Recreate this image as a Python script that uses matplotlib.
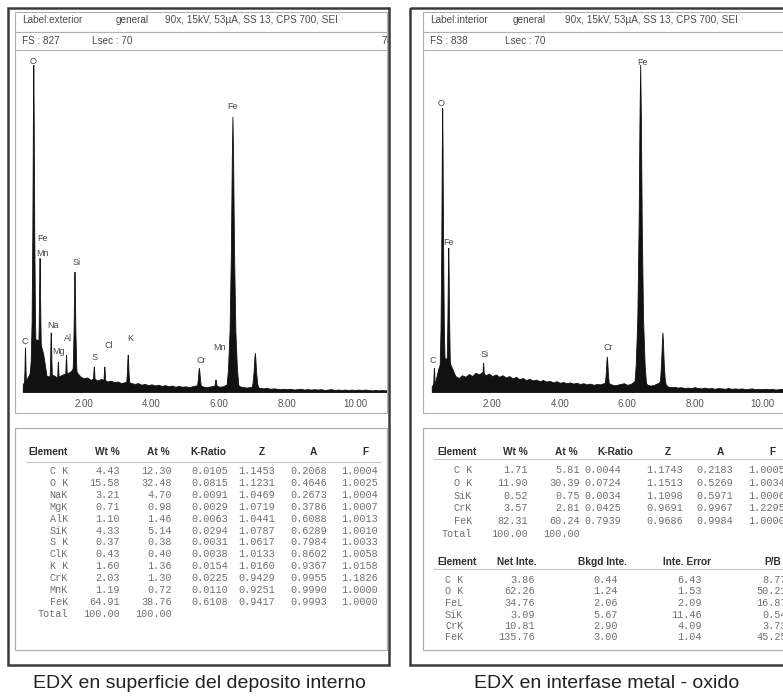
import numpy as np
import matplotlib.pyplot as plt
from matplotlib.patches import Rectangle

W, H = 783, 697

# ---------------- spectrum data (keV / counts) ----------------
fs_left, fs_right = 827, 838
lsec = 70

# background readings every 0.1 keV from 0.2 keV
bg_start, bg_step = 0.2, 0.1
bg_left = [20, 30, 45, 125, 130, 125, 95, 40, 38, 42,
           36, 40, 44, 46, 50, 60, 48, 38, 34, 36,
           30, 34, 28, 32, 30, 26, 28, 24, 26, 22,
           24, 26, 22, 20, 22, 18, 20, 17, 19, 16,
           18, 15, 17, 14, 16, 13, 15, 13, 14, 12,
           14, 16, 18, 14, 12, 13, 15, 16, 13, 14,
           18, 22, 24, 20, 14, 12, 11, 12, 14, 13,
           10, 9, 10, 8, 9, 8, 7, 8, 7, 8,
           6, 7, 8, 6, 7, 6, 7, 6, 7, 5,
           6, 7, 5, 6, 5, 6, 5, 6, 5, 6,
           5, 6, 5, 4, 5, 4, 5, 4, 5]
bg_right = [15, 25, 60, 80, 85, 80, 60, 40, 35, 42,
            38, 45, 40, 48, 44, 50, 42, 46, 40, 44,
            38, 42, 36, 40, 34, 38, 32, 35, 30, 33,
            29, 31, 27, 30, 26, 28, 24, 27, 23, 25,
            22, 24, 21, 23, 20, 22, 19, 21, 18, 20,
            19, 22, 24, 20, 17, 18, 20, 22, 18, 20,
            26, 32, 34, 28, 18, 16, 18, 22, 26, 22,
            14, 12, 13, 11, 12, 10, 11, 10, 12, 10,
            9, 11, 9, 10, 8, 10, 9, 8, 10, 8,
            9, 8, 9, 7, 8, 9, 7, 8, 7, 8,
            7, 8, 6, 7, 8, 6, 7, 6, 7]

# peaks: energy, height, half width at base
pk_left_kev = [0.28, 0.525, 0.71, 1.04, 1.25, 1.49, 1.74, 2.31, 2.62, 3.31, 5.41, 5.90, 6.40, 7.06]
pk_left_cnt = [109, 807, 330, 146, 74, 91, 296, 62, 62, 91, 59, 30, 679, 96]
pk_left_hw = [0.06, 0.11, 0.10, 0.08, 0.08, 0.08, 0.11, 0.09, 0.09, 0.10, 0.13, 0.12, 0.19, 0.15]

pk_right_kev = [0.28, 0.525, 0.705, 1.74, 5.41, 6.40, 7.06]
pk_right_cnt = [60, 710, 360, 72, 88, 818, 148]
pk_right_hw = [0.06, 0.11, 0.10, 0.09, 0.13, 0.19, 0.15]

# peak labels
lab_left = ['O', 'Fe', 'Mn', 'C', 'Na', 'Mg', 'Al', 'Si', 'S', 'Cl', 'K', 'Cr', 'Mn', 'Fe']
lab_left_kev = [0.50, 0.77, 0.77, 0.27, 1.09, 1.27, 1.53, 1.80, 2.33, 2.74, 3.36, 5.46, 5.99, 6.40]
lab_left_cnt = [815, 380, 343, 124, 163, 99, 131, 319, 84, 116, 133, 77, 111, 704]

lab_right = ['Fe', 'O', 'Fe', 'C', 'Si', 'Cr']
lab_right_kev = [6.44, 0.47, 0.71, 0.24, 1.78, 5.43]
lab_right_cnt = [825, 722, 375, 78, 95, 112]

# ---------------- table data ----------------
el_left = ['C K', 'O K', 'NaK', 'MgK', 'AlK', 'SiK', 'S K', 'ClK', 'K K', 'CrK', 'MnK', 'FeK']
wt_left = [4.43, 15.58, 3.21, 0.71, 1.10, 4.33, 0.37, 0.43, 1.60, 2.03, 1.19, 64.91]
at_left = [12.30, 32.48, 4.70, 0.98, 1.46, 5.14, 0.38, 0.40, 1.36, 1.30, 0.72, 38.76]
kr_left = [0.0105, 0.0815, 0.0091, 0.0029, 0.0063, 0.0294, 0.0031, 0.0038, 0.0154, 0.0225, 0.0110, 0.6108]
z_left = [1.1453, 1.1231, 1.0469, 1.0719, 1.0441, 1.0787, 1.0617, 1.0133, 1.0160, 0.9429, 0.9251, 0.9417]
a_left = [0.2068, 0.4646, 0.2673, 0.3786, 0.6088, 0.6289, 0.7984, 0.8602, 0.9367, 0.9955, 0.9990, 0.9993]
f_left = [1.0004, 1.0025, 1.0004, 1.0007, 1.0013, 1.0010, 1.0033, 1.0058, 1.0158, 1.1826, 1.0000, 1.0000]

el_right = ['C K', 'O K', 'SiK', 'CrK', 'FeK']
wt_right = [1.71, 11.90, 0.52, 3.57, 82.31]
at_right = [5.81, 30.39, 0.75, 2.81, 60.24]
kr_right = [0.0044, 0.0724, 0.0034, 0.0425, 0.7939]
z_right = [1.1743, 1.1513, 1.1098, 0.9691, 0.9686]
a_right = [0.2183, 0.5269, 0.5971, 0.9967, 0.9984]
f_right = [1.0005, 1.0034, 1.0006, 1.2295, 1.0000]

el_int = ['C K', 'O K', 'FeL', 'SiK', 'CrK', 'FeK']
net_int = [3.86, 62.26, 34.76, 3.09, 10.81, 135.76]
bkg_int = [0.44, 1.24, 2.06, 5.67, 2.90, 3.00]
err_int = [6.43, 1.53, 2.09, 11.46, 4.09, 1.04]
pb_int = [8.77, 50.21, 16.87, 0.54, 3.73, 45.25]

# ---------------- styling ----------------
MONO = 'Liberation Mono'
SANS = 'Liberation Sans'
c_val = '#707070'
c_hdr = '#2e2e2e'
c_txt = '#4a4a4a'
c_box = '#b0b0b0'
c_frame = '#3a3a3a'

fig = plt.figure(figsize=(W / 100, H / 100), dpi=100)
fig.patch.set_facecolor('white')

bg = fig.add_axes([0, 0, 1, 1])
bg.set_xlim(0, W)
bg.set_ylim(H, 0)
bg.axis('off')


def hline(x0, x1, y, color=c_box, lw=0.8):
    bg.plot([x0, x1], [y, y], color=color, lw=lw, solid_capstyle='butt')


def panel(x0, x1, bi, head, offs, fs, date):
    # outer frame and inner boxes
    bg.add_patch(Rectangle((x0, 8), x1 - x0, 657, fill=False, ec=c_frame, lw=1.8))
    bg.add_patch(Rectangle((bi, 12), 372, 401, fill=False, ec=c_box, lw=0.8))
    bg.add_patch(Rectangle((bi, 428), 372, 222, fill=False, ec=c_box, lw=0.9))
    hline(bi, bi + 372, 32)
    hline(bi, bi + 372, 50)
    tx = bi + 7
    for t, dx in zip(head, offs[:3]):
        bg.text(tx + dx, 20, t, fontsize=7.2, family=SANS, color=c_txt, va='center')
    bg.text(tx, 41, f'FS : {fs}', fontsize=7.2, family=SANS, color=c_txt, va='center')
    bg.text(tx + offs[3], 41, f'Lsec : {lsec}', fontsize=7.2, family=SANS, color=c_txt, va='center')
    bg.text(bi + 367, 41, date, fontsize=7.2, family=SANS, color=c_txt, va='center')


head_cond = '90x, 15kV, 53µA, SS 13, CPS 700, SEI'
panel(8, 389, 15, ['Label:exterior', 'general', head_cond], [0, 94, 143, 70], fs_left, '7-')
panel(410, 820, 423, ['Label:interior', 'general', head_cond], [0, 83, 135, 75], fs_right, '7')


def spike(e, h, w):
    fx = np.array([-1, -0.7, -0.45, -0.25, -0.1, 0, 0.1, 0.25, 0.45, 0.7, 1])
    fy = np.array([0, 0.08, 0.22, 0.5, 0.85, 1, 0.85, 0.5, 0.22, 0.08, 0])
    return e + fx * w, fy * h


def spectrum(px0, px1, kev_px, fs, bgc, pk, pc, pw, labs, lk, lc):
    ax = fig.add_axes([px0 / W, 1 - 392 / H, (px1 - px0) / W, 335 / H])
    ax.set_xlim(0, (px1 - px0) / kev_px)
    ax.set_ylim(0, fs)
    ax.patch.set_alpha(0)
    for s in ax.spines.values():
        s.set_visible(False)
    kev = bg_start + bg_step * np.arange(len(bgc))
    ax.fill_between(kev, 0, bgc, color='#111111', lw=0.6, ec='#111111')
    for e, h, w in zip(pk, pc, pw):
        xs, ys = spike(e, h, w)
        ax.fill(xs, ys, color='#111111', lw=0.6, ec='#111111')
    for t, x, y in zip(labs, lk, lc):
        ax.text(x, y, t, fontsize=6.5, family=SANS, color=c_txt, ha='center', va='center')
    ax.set_xticks([2, 4, 6, 8, 10])
    ax.set_xticklabels([f'{v:.2f}' for v in [2, 4, 6, 8, 10]], fontsize=7, family=SANS, color='#555555')
    ax.tick_params(axis='x', length=0, pad=5)
    ax.set_yticks([])
    return ax


spectrum(16, 386, 33.9, fs_left, bg_left, pk_left_kev, pk_left_cnt, pk_left_hw,
         lab_left, lab_left_kev, lab_left_cnt)
spectrum(425, 783, 33.7, fs_right, bg_right, pk_right_kev, pk_right_cnt, pk_right_hw,
         lab_right, lab_right_kev, lab_right_cnt)


def hdr(x, y, t, ha):
    bg.text(x, y, t, fontsize=7.3, family=SANS, weight='bold', color=c_hdr, ha=ha, va='center')


def val(x, y, t, ha='right'):
    bg.text(x, y, t, fontsize=7.3, family=MONO, color=c_val, ha=ha, va='center')


# left table
hy = 452
hdr(48, hy, 'Element', 'center')
hdr(120, hy, 'Wt %', 'right')
hdr(170, hy, 'At %', 'right')
hdr(208, hy, 'K-Ratio', 'center')
hdr(262, hy, 'Z', 'center')
hdr(313, hy, 'A', 'center')
hdr(365, hy, 'F', 'center')
hline(26, 381, 462, color='#c8c8c8')
for i, el in enumerate(el_left):
    y = 471 + 11.9 * i
    val(68, y, el)
    val(120, y, f'{wt_left[i]:.2f}')
    val(172, y, f'{at_left[i]:.2f}')
    val(228, y, f'{kr_left[i]:.4f}')
    val(275, y, f'{z_left[i]:.4f}')
    val(327, y, f'{a_left[i]:.4f}')
    val(378, y, f'{f_left[i]:.4f}')
yt = 471 + 11.9 * len(el_left)
val(68, yt, 'Total')
val(120, yt, '100.00')
val(172, yt, '100.00')

# right table 1
hdr(457, hy, 'Element', 'center')
hdr(528, hy, 'Wt %', 'right')
hdr(578, hy, 'At %', 'right')
hdr(615, hy, 'K-Ratio', 'center')
hdr(668, hy, 'Z', 'center')
hdr(720, hy, 'A', 'center')
hdr(772, hy, 'F', 'center')
hline(433, 783, 459, color='#c8c8c8')
for i, el in enumerate(el_right):
    y = 470 + 12.8 * i
    val(472, y, el)
    val(528, y, f'{wt_right[i]:.2f}')
    val(580, y, f'{at_right[i]:.2f}')
    val(621, y, f'{kr_right[i]:.4f}')
    val(683, y, f'{z_right[i]:.4f}')
    val(733, y, f'{a_right[i]:.4f}')
    val(785, y, f'{f_right[i]:.4f}')
yt = 470 + 12.8 * len(el_right)
val(472, yt, 'Total')
val(528, yt, '100.00')
val(580, yt, '100.00')

# right table 2
hy2 = 562
hdr(457, hy2, 'Element', 'center')
hdr(517, hy2, 'Net Inte.', 'center')
hdr(603, hy2, 'Bkgd Inte.', 'center')
hdr(687, hy2, 'Inte. Error', 'center')
hdr(773, hy2, 'P/B', 'center')
hline(433, 783, 569, color='#c8c8c8')
for i, el in enumerate(el_int):
    y = 580 + 11.5 * i
    val(445, y, el, ha='left')
    val(535, y, f'{net_int[i]:.2f}')
    val(618, y, f'{bkg_int[i]:.2f}')
    val(702, y, f'{err_int[i]:.2f}')
    val(787, y, f'{pb_int[i]:.2f}')

# captions
bg.text(199, 683, 'EDX en superficie del deposito interno', fontsize=14, family=SANS,
        color='#222222', ha='center', va='center')
bg.text(607, 683, 'EDX en interfase metal - oxido', fontsize=14, family=SANS,
        color='#222222', ha='center', va='center')

fig.savefig('out.png', dpi=100, facecolor='white')
